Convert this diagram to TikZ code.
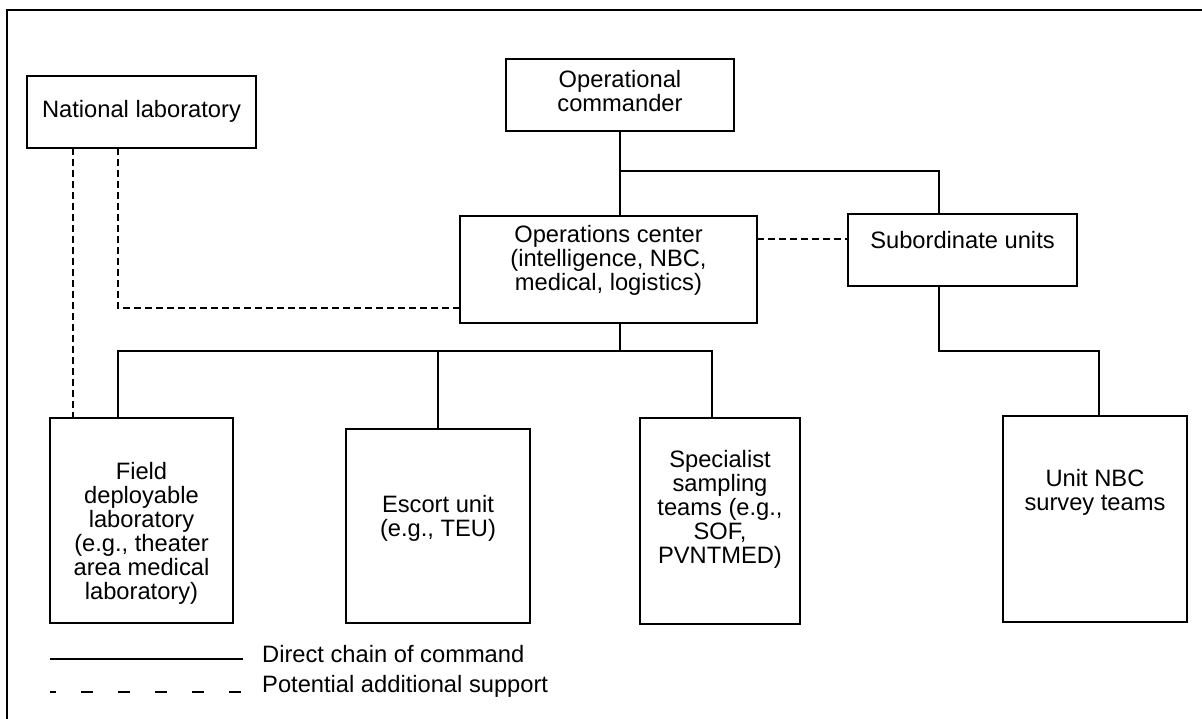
\documentclass[tikz,border=0pt]{standalone}
\usepackage{fontspec}
\setmainfont{Liberation Sans}

\begin{document}
\begin{tikzpicture}[x=1pt,y=-1pt,
    box/.style={draw, line width=1.4pt, inner sep=0pt, outer sep=0pt},
    txt/.style={align=center, inner sep=0pt, font=\fontsize{23.7}{24}\selectfont},
    command/.style={line width=1.2pt},
    support/.style={line width=1.2pt, dash pattern=on 7pt off 4pt}]
  \useasboundingbox (0,0) rectangle (1202,719);

  % frame
  \draw[line width=2.5pt] (1202,10) -| (7,719);

  % boxes
  \node[box, minimum width=229pt, minimum height=72pt] (natlab) at (141.5,112) {};
  \node[txt] (natlabtxt) at (141.5,111) {National laboratory};

  \node[box, minimum width=228pt, minimum height=72pt] (opcmd) at (620,95) {};
  \node[txt] (opcmdtxt) at (620,91) {Operational\\commander};

  \node[box, minimum width=297pt, minimum height=107pt] (opsctr) at (608.5,269.5) {};
  \node[txt] (opsctrtxt) at (608.5,260.5) {Operations center\\(intelligence, NBC,\\medical, logistics)};

  \node[box, minimum width=229pt, minimum height=72pt] (subunits) at (962.5,250) {};
  \node[txt] (subunitstxt) at (962.5,240) {Subordinate units};

  \node[box, minimum width=183pt, minimum height=205pt] (fieldlab) at (141.5,520.5) {};
  \node[txt] (fieldlabtxt) at (141.5,533) {Field\\deployable\\laboratory\\(e.g., theater\\area medical\\laboratory)};

  \node[box, minimum width=184pt, minimum height=194pt] (escort) at (438,526) {};
  \node[txt] (escorttxt) at (438,518.5) {Escort unit\\(e.g., TEU)};

  \node[box, minimum width=160pt, minimum height=206pt] (specialist) at (720,521) {};
  \node[txt] (specialisttxt) at (720,509.5) {Specialist\\sampling\\teams (e.g.,\\SOF,\\PVNTMED)};

  \node[box, minimum width=184pt, minimum height=206pt] (unitnbc) at (1095,519) {};
  \node[txt] (unitnbctxt) at (1095,492.5) {Unit NBC\\survey teams};

  % direct chain of command
  \draw[command] (opcmd.south) -- (opcmd.south |- opsctr.north);
  \coordinate (split) at ([yshift=-40]opcmd.south);
  \draw[command] (split) -| ([xshift=-23.5]subunits.north);
  \draw[command] ([xshift=11.5]opsctr.south) -- ++(0,28) coordinate (bus);
  \foreach \dx/\unit in {-23.5/fieldlab, 0/escort, -8/specialist}
    \draw[command] ([xshift=\dx]\unit.north) |- (bus);
  \draw[command] ([xshift=-23.5]subunits.south) -- ++(0,65) -| ([xshift=4]unitnbc.north);

  % potential additional support
  \coordinate (link) at ([yshift=30.5]opsctr.east);
  \draw[support] (link) -- (link -| subunits.west);
  \draw[support] ([xshift=-23.5]natlab.south) |- ([yshift=-38.5]opsctr.west);
  \coordinate (labdown) at ([xshift=-68.5]natlab.south);
  \draw[support] (labdown) -- (labdown |- fieldlab.north);

  % legend
  \draw[command] (50,659) -- (243,659);
  \draw[line width=1.2pt, dash pattern=on 12pt off 25pt, dash phase=6pt] (50,692) -- (241,692);
  \node[txt, anchor=base west] (chainkey) at (262,662) {Direct chain of command};
  \node[txt, anchor=base west] (supportkey) at (262,692) {Potential additional support};
\end{tikzpicture}
\end{document}
